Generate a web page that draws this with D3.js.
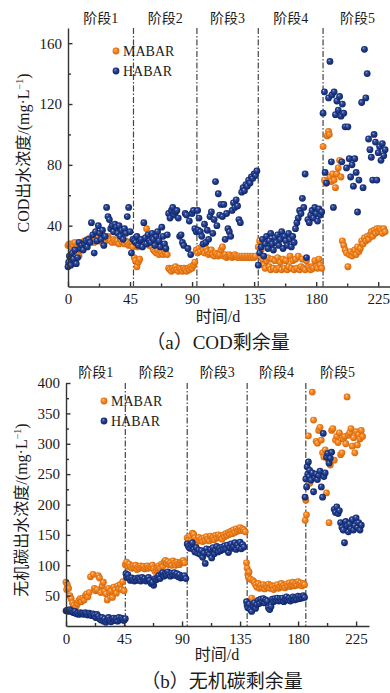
<!DOCTYPE html>
<html>
<head>
<meta charset="utf-8">
<script src="https://cdn.jsdelivr.net/npm/d3@7"></script>
<style>
  html, body { margin: 0; padding: 0; background: #fff; }
  svg { display: block; }
</style>
</head>
<body>
<svg id="chart" width="390" height="693"></svg>
<script>
// ---- data ----
const stageNames = ['阶段1', '阶段2', '阶段3', '阶段4', '阶段5'];
const xTicks = [0, 45, 90, 135, 180, 225];
const codTicks = [40, 80, 120, 160];
const icTicks = [50, 100, 150, 200, 250, 300, 350, 400];
const codStages = [47.5, 93.5, 138, 185];
const icStages = [46, 94, 140.5, 186];

// COD effluent (mg/L), [day, value]
const codMABAR = [
  [0,27],[1,28],[2,26],[3,28],[4,27],[5,29],[6,25],[7,22],[8,20],[9,24],[10,27],[11,29],[12,30],[13,30],[14,31],[15,30],[16,32],[17,31],[18,30],[19,29],[20,31],[21,30],[22,32],[23,31],[24,30],[25,29],[26,31],[27,30],[28,32],[29,33],[30,31],[31,30],[32,29],[33,31],[34,30],[35,29],[36,30],[37,28],[38,31],[39,30],[40,29],[41,28],[42,30],[43,29],[44,27],[45,28],[46,27],[46.5,29],[47,26],
  [48,19],[49,17],[50,13],[51,16],[52,18],[50.5,26],[53,27],[54,29],[55,30],[56,28],[57,38],[58,31],[59,27],[60,29],[61,26],[62,24],[63,23],[64,22],[65,24],[66,21],[67,23],[68,22],[69,21],[70,23],[71,22],[72,21],
  [73,12],[74,11],[75,10],[76,12],[77,11],[78,13],[79,11],[80,10],[81,12],[82,11],[83,10],[84,12],[85,11],[86,10],[87,12],[88,11],[89,13],[90,12],[91,14],[92,16],[93,24],
  [94,22],[95,25],[96,23],[97,26],[98,24],[99,22],[100,25],[101,23],[102,21],[103,22],[104,24],[105,21],[106,20],[107,22],[108,21],[109,20],[110,21],[111,24],[112,26],[113,20],[114,21],[115,19],[116,20],[117,21],[118,20],[119,19],[120,20],[121,21],[122,20],[123,19],[124,20],[125,19],[126,20],[127,19],[128,20],[129,19],[130,20],[131,19],[132,20],[133,19],[134,20],[135,19],[136,20],
  [138,26],[139,30],[140,24],[141,18],[142,14],[143,12],[144,17],[145,19],[146,13],[147,11],[148,18],[149,12],[150,17],[151,11],[152,19],[153,12],[154,16],[155,11],[156,18],[157,12],[158,17],[159,11],[160,13],[161,20],[162,12],[163,17],[164,11],[165,18],[166,12],[167,20],[168,11],[169,13],[170,18],[171,12],[172,11],[173,17],[174,13],[175,12],[176,11],[177,13],[178,12],[179,17],[180,13],[181,12],[182,18],[183,14],[184,12],
  [185,92],[186,70],[187,68],[188,99],[189,102],[189.5,100],[190,72],[191,69],[192,74],[193,70],[194,65],[195,74],[196,78],[197,83],[198,72],
  [199,30],[200,27],[201,24],[202,22],[203,13],[204,21],[205,23],[206,20],[207,22],[208,24],[209,21],[210,26],[211,23],[212,25],[213,30],[214,28],[215,32],[216,30],[217,33],[218,31],[219,34],[220,36],[221,33],[222,37],[223,35],[224,38],[225,36],[226,38],[227,37],[228,35],[229,38],[230,36]
];
const codHABAR = [
  [0,13],[0.5,16],[1,20],[2,14],[3,22],[4,18],[5,24],[6,15],[7,19],[8,29],[9,25],[10,27],[11,24],[12,28],[13,30],[14,26],[15,31],[16,29],[17,42],[18,34],[19,22],[20,36],[21,30],[22,40],[23,35],[24,31],[25,37],[26,27],[27,33],[28,52],[29,46],[30,44],[31,38],[32,40],[33,36],[34,41],[35,39],[36,35],[37,40],[38,33],[39,37],[40,31],[41,38],[42,35],[43,46],[44,52],[45,36],[46,22],
  [47,31],[48,30],[49,29],[50,33],[51,27],[52,30],[53,31],[54,26],[55,42],[56,32],[57,28],[58,34],[59,30],[60,29],[61,35],[62,31],[63,27],[64,33],[65,36],[66,30],[67,26],[68,39],[69,33],[70,28],[71,25],[72,34],
  [73,48],[74,45],[75,50],[76,52],[77,47],[78,49],[79,50],[80,45],[81,33],[82,34],[83,29],[84,27],[85,48],[86,47],[87,25],[88,43],[89,21],[90,48],[91,50],[92,38],[93,36],
  [94,50],[94.5,37],[95,45],[96,36],[97,33],[98,28],[99,41],[100,29],[101,37],[102,31],[103,46],[104,49],[105,35],[106,44],[107,69],[108,40],[109,61],[110,47],[111,54],[112,46],[113,54],[114,31],[115,48],[116,38],[117,36],[118,33],[119,50],[120,55],[121,52],[122,57],[123,53],[124,44],[125,42],[126,62],[127,65],[128,63],[129,67],[130,66],[131,70],[132,68],[133,72],[134,71],[135,74],[136,73],[137,76],
  [138,14],[139,22],[140,26],[141,31],[142,20],[143,28],[144,33],[145,25],[146,30],[147,35],[148,28],[149,24],[150,32],[151,29],[152,34],[153,27],[154,31],[155,36],[156,25],[157,33],[158,30],[159,27],[160,35],[161,31],[162,26],[163,33],[164,29],[165,38],[166,42],[167,45],[168,50],[169,48],[170,58],[171,52],[172,74],[173,19],[174,44],[175,42],[176,47],[177,50],[178,45],[179,52],[180,48],[181,43],[182,51],[183,47],[184,49],
  [185,114],[186,128],[186.5,75],[187.5,68],[189,124],[190,148],[191,82],[191.5,126],[192.5,52],[193,128],[194,113],[195,122],[196,116],[197,125],[198,112],[198.6,82],[199,120],[200,114],[201,105],[202,78],[203,105],[204,84],[205,72],[206,80],[207,66],[208,84],[209,75],[210,49],[211,70],[213,121],[214,65],[215,156],[216,124],[217,140],[218,97],[219,90],[220,85],[221,70],[222,100],[223,95],[224,70],[225,88],[226,92],[227,83],[228,94],[229,86],[230,90]
];

// inorganic carbon effluent (mg/L), [day, value]
const icMABAR = [
  [0,72],[0.5,60],[1,68],[2,62],[3,50],[4,45],[5,38],[6,34],[7,30],[8,33],[9,37],[10,42],[11,45],[12,40],[13,46],[14,43],[15,50],[16,53],[17,48],[18,55],[19,81],[21,85],[22,62],[23,58],[24,60],[25,83],[26,79],[27,55],[28,66],[29,72],[30,57],[31,53],[32,43],[33,62],[34,55],[35,58],[36,47],[37,64],[38,60],[39,54],[40,66],[41,62],[42,68],[43,60],[44,73],[45,58],
  [46,101],[47,105],[48,98],[49,102],[50,97],[51,95],[52,99],[53,96],[54,100],[55,93],[56,97],[57,95],[58,99],[59,96],[60,98],[61,94],[62,97],[63,99],[64,95],[65,98],[66,96],[67,100],[68,94],[69,90],[70,93],[71,96],[72,99],[73,95],[74,102],[75,98],[76,105],[77,108],[78,103],[79,106],[80,101],[81,104],[82,100],[83,107],[84,103],[85,100],[86,105],[87,102],[88,101],[89,104],[90,106],[91,108],[92,104],
  [94,145],[95,142],[96,148],[97,140],[98,153],[99,151],[100,145],[101,138],[102,142],[103,146],[104,140],[105,143],[106,139],[107,145],[108,141],[109,147],[110,143],[111,140],[112,148],[113,144],[114,146],[115,142],[116,149],[117,145],[118,150],[119,146],[120,148],[121,143],[122,150],[123,147],[124,152],[125,149],[126,154],[127,151],[128,156],[129,152],[130,158],[131,154],[132,160],[133,156],[134,159],[135,162],[136,157],[137,160],[138,158],[139,155],
  [140,104],[140.5,95],[141,85],[141.5,80],[142,89],[143,77],[144,46],[145,75],[146,72],[147,68],[148,64],[149,70],[150,62],[151,67],[152,63],[153,68],[154,61],[155,66],[156,64],[157,69],[158,62],[159,67],[160,65],[161,60],[162,66],[163,63],[164,68],[165,62],[166,65],[167,70],[168,64],[169,67],[170,63],[171,69],[172,66],[173,71],[174,65],[175,68],[176,72],[177,66],[178,70],[179,67],[180,73],[181,68],[182,71],[183,66],[184,70],[185,68],
  [185.5,174],[186.5,183],[186,207],[188,313],[189,235],[191,385],[192,339],[193,250],[194,304],[195,301],[196,322],[197,327],[198,306],[199,285],[200,278],[201,290],[202,219],[203,275],[204,170],[205,265],[206,322],[207,325],[208,273],[209,306],[210,312],[211,302],[212,318],[213,282],[214,285],[215,308],[216,312],[217,300],[218,377],[219,314],[220,318],[221,325],[222,296],[223,310],[224,285],[225,320],[226,298],[227,315],[228,308],[229,322],[230,312]
];
const icHABAR = [
  [0,25],[1,26],[2,24],[3,27],[4,25],[5,23],[6,22],[7,24],[8,20],[9,21],[10,19],[11,22],[12,20],[13,21],[14,19],[15,22],[16,20],[17,18],[18,21],[19,19],[20,17],[21,20],[22,18],[23,14],[24,19],[25,16],[26,12],[27,10],[28,14],[29,8],[30,12],[31,6],[32,10],[33,14],[34,9],[35,7],[36,11],[37,13],[38,9],[39,12],[40,8],[41,14],[42,10],[43,13],[44,11],[45,9],[46,12],
  [46.5,86],[47,80],[48,84],[49,78],[50,75],[51,79],[52,76],[53,74],[54,78],[55,75],[56,79],[57,77],[58,74],[59,80],[60,76],[61,78],[62,74],[63,77],[64,80],[65,75],[66,70],[68,67],[67,72],[69,78],[70,76],[71,80],[72,83],[73,78],[74,85],[75,88],[76,82],[77,86],[78,84],[79,89],[80,85],[81,82],[82,87],[83,84],[84,88],[85,83],[86,86],[87,81],[88,84],[89,79],[90,82],[91,80],[92,83],[93,78],
  [94,135],[95,131],[96,128],[97,133],[98,137],[99,126],[100,122],[101,129],[102,120],[103,125],[104,118],[105,124],[106,113],[107,120],[108,103],[109,127],[110,121],[111,118],[112,126],[113,112],[114,129],[115,119],[116,125],[117,131],[118,122],[119,128],[120,124],[121,130],[122,126],[123,132],[124,127],[125,133],[126,121],[127,129],[128,135],[129,128],[130,131],[131,137],[132,126],[133,133],[134,129],[135,138],[136,127],[137,134],[138,130],
  [140,40],[140.5,34],[141,30],[142,36],[143,27],[144,24],[145,33],[146,38],[147,29],[148,35],[149,42],[150,37],[151,44],[152,40],[153,45],[154,38],[155,43],[156,41],[157,30],[158,27],[159,32],[160,44],[161,40],[162,45],[163,42],[164,46],[165,41],[166,45],[167,42],[168,46],[169,40],[170,44],[171,48],[172,43],[173,46],[174,41],[175,45],[176,48],[177,43],[178,47],[179,44],[180,49],[181,45],[182,48],[183,46],[184,50],[185,47],
  [185.4,212],[186,242],[186.6,229],[187,262],[187.5,250],[188,270],[188.5,246],[189,256],[190,240],[191,252],[192,221],[193,244],[194,250],[195,241],[196,248],[197,255],[198,229],[199,212],[199.5,317],[200,246],[201,252],[202,278],[203,284],[204,268],[205,276],[206,286],[208,192],[209,187],[210,196],[211,185],[212,190],[213,170],[214,162],[215,158],[216,137],[217,172],[218,165],[219,155],[220,168],[221,160],[222,175],[223,158],[224,165],[225,178],[226,162],[227,170],[228,158],[229,166]
];

const serif = '"Liberation Serif", "Times New Roman", "Noto Sans CJK SC", serif';
const cjk = '"Liberation Serif", "Noto Sans CJK SC", serif';
const axisColor = '#333';
const textColor = '#1a1a1a';

const svg = d3.select('#chart');
const defs = svg.append('defs');

function addBall(id, c0, c1, c2, c3) {
    const g = defs.append('radialGradient').attr('id', id)
        .attr('cx', '50%').attr('cy', '50%').attr('r', '55%')
        .attr('fx', '35%').attr('fy', '30%');
    g.append('stop').attr('offset', '0%').attr('stop-color', c0);
    g.append('stop').attr('offset', '25%').attr('stop-color', c1);
    g.append('stop').attr('offset', '60%').attr('stop-color', c2);
    g.append('stop').attr('offset', '100%').attr('stop-color', c3);
}
addBall('ballO', '#ffe6c4', '#f9983a', '#ef7d18', '#c9600a');
addBall('ballB', '#b7c5ec', '#3a56a3', '#1b3684', '#0f2260');

/**
 * Draw one scatter panel
 */
function drawPanel(o) {
    const x = d3.scaleLinear().domain([0, 235]).range([o.left, o.right]);
    const y = d3.scaleLinear().domain([0, o.yMax]).range([o.bottom, o.top]);

    // stage dividers
    svg.append('g').selectAll('line')
        .data(o.stages)
        .join('line')
        .attr('x1', d => x(d)).attr('x2', d => x(d))
        .attr('y1', o.top).attr('y2', o.bottom)
        .attr('stroke', '#444')
        .attr('stroke-width', 1.2)
        .attr('stroke-dasharray', '6,2,1.5,2');

    // stage labels at the middle of each stage
    const bounds = [0].concat(o.stages, [235]);
    svg.append('g').selectAll('text')
        .data(stageNames)
        .join('text')
        .attr('x', (d, i) => x((bounds[i] + bounds[i + 1]) / 2))
        .attr('y', o.stageY)
        .attr('text-anchor', 'middle')
        .attr('font-family', cjk)
        .attr('font-size', 14)
        .attr('fill', textColor)
        .text(d => d);

    // points
    const pts = svg.append('g');
    pts.selectAll('circle.m')
        .data(o.m)
        .join('circle')
        .attr('class', 'm')
        .attr('cx', d => x(d[0])).attr('cy', d => y(d[1]))
        .attr('r', 3.4)
        .attr('fill', 'url(#ballO)');
    pts.selectAll('circle.h')
        .data(o.h)
        .join('circle')
        .attr('class', 'h')
        .attr('cx', d => x(d[0])).attr('cy', d => y(d[1]))
        .attr('r', 3.4)
        .attr('fill', 'url(#ballB)');

    // x axis, ticks inward
    const xMinor = d3.range(22.5, 235, 45);
    const gxm = svg.append('g')
        .attr('transform', 'translate(0,' + o.bottom + ')')
        .call(d3.axisBottom(x).tickValues(xMinor).tickFormat('').tickSizeInner(-3).tickSizeOuter(0));
    gxm.select('.domain').remove();
    const gx = svg.append('g')
        .attr('transform', 'translate(0,' + o.bottom + ')')
        .call(d3.axisBottom(x).tickValues(xTicks).tickSizeInner(-4.5).tickSizeOuter(0).tickPadding(7));

    // y axis
    const yMinor = d3.range(o.yMinorStep, o.yMax, o.yMinorStep * 2);
    const gym = svg.append('g')
        .attr('transform', 'translate(' + o.left + ',0)')
        .call(d3.axisLeft(y).tickValues(yMinor).tickFormat('').tickSizeInner(-3).tickSizeOuter(0));
    gym.select('.domain').remove();
    const gy = svg.append('g')
        .attr('transform', 'translate(' + o.left + ',0)')
        .call(d3.axisLeft(y).tickValues(o.yTicks).tickSizeInner(-4.5).tickSizeOuter(0).tickPadding(6));

    [gx, gxm, gy, gym].forEach(g => {
        g.selectAll('path, line').attr('stroke', axisColor).attr('stroke-width', 1.4);
        g.selectAll('text').attr('fill', textColor).attr('font-family', serif).attr('font-size', 15);
    });

    // legend
    const lg = svg.append('g').attr('transform', 'translate(' + o.legX + ',' + o.legY + ')');
    [['ballO', 'MABAR'], ['ballB', 'HABAR']].forEach((d, i) => {
        lg.append('circle').attr('cx', 0).attr('cy', i * 20).attr('r', 3.4).attr('fill', 'url(#' + d[0] + ')');
        lg.append('text').attr('x', 7).attr('y', i * 20 + 5)
            .attr('font-family', serif).attr('font-size', 14).attr('fill', textColor)
            .text(d[1]);
    });

    // axis titles
    svg.append('text')
        .attr('x', o.xTitleX).attr('y', o.xTitleY)
        .attr('text-anchor', 'middle')
        .attr('font-family', cjk).attr('font-size', 16).attr('fill', textColor)
        .text('时间/d');

    const yt = svg.append('text')
        .attr('transform', 'translate(' + o.yTitleX + ',' + o.yTitleY + ') rotate(-90)')
        .attr('text-anchor', 'middle')
        .attr('font-family', cjk).attr('font-size', 16).attr('fill', textColor);
    yt.append('tspan').text(o.yTitle + '/(mg·L');
    yt.append('tspan').attr('dy', -6).attr('font-size', 10).text('−1');
    yt.append('tspan').attr('dy', 6).text(')');

    // caption
    svg.append('text')
        .attr('x', o.capX).attr('y', o.capY)
        .attr('text-anchor', 'middle')
        .attr('font-family', cjk).attr('font-size', 19).attr('fill', textColor)
        .text(o.caption);
}

drawPanel({
    left: 68, right: 392, top: 28, bottom: 286.5, yMax: 170,
    yTicks: codTicks, yMinorStep: 20, stages: codStages,
    m: codMABAR, h: codHABAR,
    stageY: 23, legX: 116, legY: 51,
    xTitleX: 218, xTitleY: 322,
    yTitleX: 29, yTitleY: 153, yTitle: 'COD出水浓度',
    capX: 218, capY: 349, caption: '（a）COD剩余量'
});

drawPanel({
    left: 66, right: 369, top: 383, bottom: 626, yMax: 400,
    yTicks: icTicks, yMinorStep: 25, stages: icStages,
    m: icMABAR, h: icHABAR,
    stageY: 377, legX: 104, legY: 401,
    xTitleX: 217, xTitleY: 660,
    yTitleX: 27, yTitleY: 510, yTitle: '无机碳出水浓度',
    capX: 222, capY: 688, caption: '（b）无机碳剩余量'
});
</script>
</body>
</html>
